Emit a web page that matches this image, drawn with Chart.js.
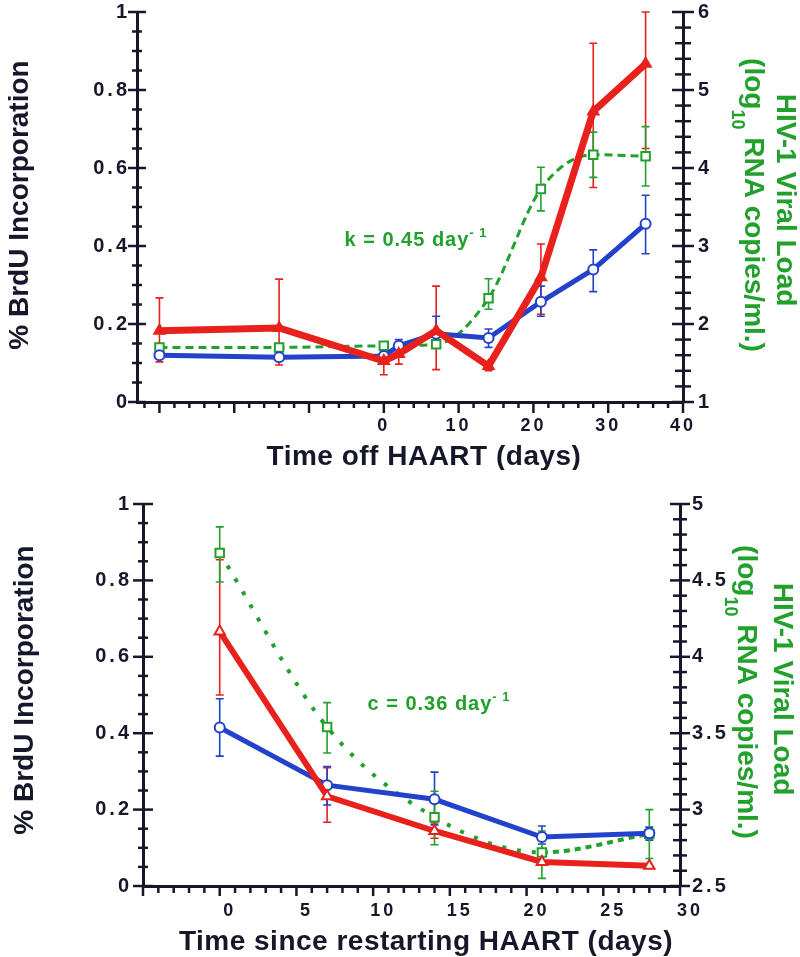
<!DOCTYPE html>
<html>
<head>
<meta charset="utf-8">
<script src="https://cdn.jsdelivr.net/npm/chart.js@4.4.1/dist/chart.umd.min.js"></script>
<style>
  html, body { margin: 0; padding: 0; background: #fff; }
  #wrap { position: relative; width: 800px; height: 957px; }
  #c1 { position: absolute; left: 0; top: 0; }
  #c2 { position: absolute; left: 0; top: 470px; }
</style>
</head>
<body>
<div id="wrap">
  <canvas id="c1" width="800" height="470"></canvas>
  <canvas id="c2" width="800" height="487"></canvas>
</div>
<script>
const AXIS = '#17172b';
const RED = '#e8211d';
const BLUE = '#2242cc';
const GREEN = '#22a02c';
const FONT = '"Liberation Sans", Arial, Helvetica, sans-serif';

// ---- top panel: time off HAART ----
const xTop = [-30, -14, 0, 2, 7, 14, 21, 28, 35];
const redTop = [0.183, 0.19, 0.105, 0.123, 0.183, 0.092, 0.32, 0.745, 0.867];
const redTopLo = [0.103, 0.095, 0.07, 0.097, 0.083, 0.08, 0.225, 0.55, 0.65];
const redTopHi = [0.267, 0.315, 0.13, 0.15, 0.297, 0.10, 0.405, 0.92, 1.0];
const blueTop = [0.12, 0.115, 0.118, 0.144, 0.175, 0.164, 0.257, 0.34, 0.457];
const blueTopLo = [null, null, 0.10, 0.125, 0.15, 0.14, 0.22, 0.283, 0.38];
const blueTopHi = [null, null, 0.135, 0.16, 0.22, 0.187, 0.297, 0.39, 0.53];
const xTopGreen = [-30, -14, 0, 7, 14, 21, 28, 35];
const greenTop = [1.70, 1.70, 1.72, 1.74, 2.33, 3.73, 4.17, 4.15];
const greenTopLo = [null, null, null, null, 2.19, 3.45, 3.88, 3.77];
const greenTopHi = [null, null, null, null, 2.58, 4.01, 4.46, 4.53];
const xLabelsTop = [0, 10, 20, 30, 40];

// ---- bottom panel: time since restarting HAART ----
const xBot = [0, 7, 14, 21, 28];
const redBot = [0.666, 0.235, 0.144, 0.063, 0.053];
const redBotLo = [0.50, 0.167, 0.125, null, null];
const redBotHi = [0.854, 0.31, 0.165, null, null];
const blueBot = [0.415, 0.264, 0.227, 0.128, 0.138];
const blueBotLo = [0.34, 0.212, 0.16, 0.11, 0.12];
const blueBotHi = [0.49, 0.313, 0.298, 0.157, 0.154];
const greenBot = [4.68, 3.54, 2.95, 2.72, 2.84];
const greenBotLo = [4.49, 3.37, 2.77, 2.55, 2.68];
const greenBotHi = [4.85, 3.70, 3.12, 2.86, 3.0];
const xLabelsBot = [0, 5, 10, 15, 20, 25, 30];

function pts(xs, ys) {
  return xs.map((x, i) => ({ x: x, y: ys[i] }));
}

// "1" instead of "1.0", "3" instead of "3.0"
function plainNum(v) {
  return String(Number(v.toFixed(2)));
}

// fixed box sizes so the plot area sits where the figure has it
function fixWidth(w) {
  return s => { s.width = w; s.paddingTop = 0; s.paddingBottom = 0; };
}
function fixHeight(h) {
  return s => { s.height = h; s.paddingLeft = 0; s.paddingRight = 0; };
}

// tick marks crossing the axis lines (major / minor)
const axisTicks = {
  id: 'axisTicks',
  beforeDatasetsDraw(chart, args, opts) {
    const ctx = chart.ctx;
    const area = chart.chartArea;
    ctx.save();
    ctx.letterSpacing = '0px';
    ctx.strokeStyle = AXIS;
    ctx.lineWidth = 2.5;
    opts.list.forEach(t => {
      const s = chart.scales[t.axis];
      const first = Math.ceil(s.min / t.step - 1e-6);
      const last = Math.floor(s.max / t.step + 1e-6);
      for (let k = first; k <= last; k++) {
        const v = k * t.step;
        const r = v / t.major;
        const len = Math.abs(r - Math.round(r)) < 1e-6 ? t.majLen : t.minLen;
        const p = s.getPixelForValue(v);
        ctx.beginPath();
        if (t.axis === 'x') {
          ctx.moveTo(p, area.bottom - len[1]);
          ctx.lineTo(p, area.bottom + len[0]);
        } else if (s.position === 'left') {
          ctx.moveTo(area.left - len[0], p);
          ctx.lineTo(area.left + len[1], p);
        } else {
          ctx.moveTo(area.right + len[0], p);
          ctx.lineTo(area.right - len[1], p);
        }
        ctx.stroke();
      }
    });
    ctx.restore();
  }
};

// vertical error bars with caps
const errorBars = {
  id: 'errorBars',
  beforeDraw(chart) {
    chart.ctx.letterSpacing = '3px';
  },
  beforeDatasetsDraw(chart) {
    const ctx = chart.ctx;
    ctx.letterSpacing = '0px';
    chart.data.datasets.forEach(ds => {
      if (!ds.errLo) return;
      const xs = chart.scales.x;
      const ys = chart.scales[ds.yAxisID];
      ctx.save();
      ctx.strokeStyle = ds.borderColor;
      ctx.lineWidth = 1.6;
      ds.data.forEach((pt, i) => {
        const lo = ds.errLo[i], hi = ds.errHi[i];
        if (lo == null || hi == null) return;
        const px = xs.getPixelForValue(pt.x);
        const y0 = ys.getPixelForValue(lo);
        const y1 = ys.getPixelForValue(hi);
        ctx.beginPath();
        ctx.moveTo(px, y0); ctx.lineTo(px, y1);
        ctx.moveTo(px - 4, y0); ctx.lineTo(px + 4, y0);
        ctx.moveTo(px - 4, y1); ctx.lineTo(px + 4, y1);
        ctx.stroke();
      });
      ctx.restore();
    });
  }
};

// axis titles and annotations (with sub/superscripts)
function drawParts(ctx, parts, x, y, angle, color, spacing) {
  ctx.save();
  ctx.translate(x, y);
  ctx.rotate(angle);
  ctx.fillStyle = color;
  ctx.letterSpacing = spacing || '0px';
  ctx.textAlign = 'left';
  ctx.textBaseline = 'alphabetic';
  let total = 0;
  parts.forEach(p => {
    ctx.font = 'bold ' + p.size + 'px ' + FONT;
    p.w = ctx.measureText(p.text).width;
    total += p.w;
  });
  const base = parts[0].size * 0.36;
  let cur = -total / 2;
  parts.forEach(p => {
    ctx.font = 'bold ' + p.size + 'px ' + FONT;
    ctx.fillText(p.text, cur, base + (p.dy || 0));
    cur += p.w;
  });
  ctx.restore();
}

const panelText = {
  id: 'panelText',
  afterDraw(chart, args, opts) {
    opts.items.forEach(it => {
      drawParts(chart.ctx, it.parts, it.x, it.y, it.angle || 0, it.color, it.spacing);
    });
  }
};

function makePanel(id, cfg) {
  const tickFont = { family: FONT, size: 20, weight: 'bold' };
  return new Chart(document.getElementById(id), {
    type: 'line',
    data: {
      datasets: [
        {
          data: cfg.red, errLo: cfg.redLo, errHi: cfg.redHi, yAxisID: 'y',
          borderColor: RED, borderWidth: cfg.redWidth, pointStyle: 'triangle',
          pointRadius: 6, pointBackgroundColor: cfg.redFill, pointBorderColor: RED,
          pointBorderWidth: 2, tension: 0
        },
        {
          data: cfg.blue, errLo: cfg.blueLo, errHi: cfg.blueHi, yAxisID: 'y',
          borderColor: BLUE, borderWidth: 5, pointStyle: 'circle',
          pointRadius: 5, pointBackgroundColor: '#fff', pointBorderColor: BLUE,
          pointBorderWidth: 2, tension: 0
        },
        {
          data: cfg.green, errLo: cfg.greenLo, errHi: cfg.greenHi, yAxisID: 'y1',
          borderColor: GREEN, borderWidth: cfg.greenWidth, borderDash: cfg.greenDash,
          segment: cfg.greenSegment, cubicInterpolationMode: 'monotone',
          pointStyle: 'rect', pointRadius: 6, pointBackgroundColor: '#fff',
          pointBorderColor: GREEN, pointBorderWidth: 2
        }
      ]
    },
    options: {
      responsive: false,
      animation: false,
      devicePixelRatio: 1,
      layout: { padding: { top: cfg.padTop, left: 0, right: 0, bottom: 0 } },
      plugins: {
        legend: { display: false },
        tooltip: { enabled: false },
        axisTicks: { list: cfg.ticks },
        panelText: { items: cfg.texts }
      },
      scales: {
        x: {
          type: 'linear', position: 'bottom', min: cfg.xMin, max: cfg.xMax,
          afterFit: fixHeight(cfg.xHeight),
          border: { display: true, color: AXIS, width: 3 },
          grid: { display: false, drawTicks: false },
          ticks: {
            stepSize: cfg.xStep, includeBounds: false, padding: cfg.xPad,
            labelOffset: cfg.xLabelOffset, maxRotation: 0, autoSkip: false,
            color: AXIS, font: { family: FONT, size: 18, weight: 'bold' },
            callback: v => cfg.xLabels.includes(v) ? String(v) : ''
          }
        },
        y: {
          type: 'linear', position: 'left', min: 0, max: 1,
          afterFit: fixWidth(cfg.leftWidth),
          border: { display: true, color: AXIS, width: 3 },
          grid: { display: false, drawTicks: false },
          ticks: { stepSize: 0.2, padding: cfg.yPad, color: AXIS, font: tickFont, callback: plainNum }
        },
        y1: {
          type: 'linear', position: 'right', min: cfg.rMin, max: cfg.rMax,
          afterFit: fixWidth(cfg.rightWidth),
          border: { display: true, color: AXIS, width: 3 },
          grid: { display: false, drawTicks: false },
          ticks: { stepSize: cfg.rStep, padding: cfg.rPad, color: AXIS, font: tickFont, callback: plainNum }
        }
      }
    },
    plugins: [axisTicks, errorBars, panelText]
  });
}

makePanel('c1', {
  red: pts(xTop, redTop), redLo: redTopLo, redHi: redTopHi, redWidth: 7, redFill: RED,
  blue: pts(xTop, blueTop), blueLo: blueTopLo, blueHi: blueTopHi,
  green: pts(xTopGreen, greenTop), greenLo: greenTopLo, greenHi: greenTopHi,
  greenWidth: 3, greenDash: [8, 5],
  padTop: 12, xMin: -33, xMax: 40, xStep: 10, xLabels: xLabelsTop,
  xHeight: 68, xPad: 13, xLabelOffset: 0,
  leftWidth: 137, yPad: 7,
  rMin: 1, rMax: 6, rStep: 1, rightWidth: 117, rPad: 15,
  ticks: [
    { axis: 'y', step: 0.05, major: 0.2, minLen: [5, 5], majLen: [9, 9] },
    { axis: 'y1', step: 0.2, major: 1, minLen: [8, 8], majLen: [11, 11] },
    { axis: 'x', step: 2, major: 10, minLen: [6, 0], majLen: [11, 0] }
  ],
  texts: [
    { parts: [{ text: '% BrdU Incorporation', size: 28 }], x: 18, y: 205, angle: -Math.PI / 2, color: AXIS },
    { parts: [{ text: 'Time off HAART (days)', size: 28 }], x: 424, y: 455, color: AXIS, spacing: '0.5px' },
    { parts: [{ text: 'HIV-1 Viral Load', size: 28 }], x: 787, y: 200, angle: Math.PI / 2, color: GREEN },
    { parts: [{ text: '(log', size: 28 }, { text: '10', size: 18, dy: 13 }, { text: ' RNA copies/ml.)', size: 28 }],
      x: 755, y: 205, angle: Math.PI / 2, color: GREEN },
    { parts: [{ text: 'k = 0.45 day', size: 20 }, { text: '- 1', size: 13, dy: -9 }], x: 416, y: 239, color: GREEN, spacing: '1px' }
  ]
});

makePanel('c2', {
  red: pts(xBot, redBot), redLo: redBotLo, redHi: redBotHi, redWidth: 6, redFill: '#fff',
  blue: pts(xBot, blueBot), blueLo: blueBotLo, blueHi: blueBotHi,
  green: pts(xBot, greenBot), greenLo: greenBotLo, greenHi: greenBotHi,
  greenWidth: 4, greenDash: [4, 11],
  greenSegment: { borderDash: c => c.p0DataIndex >= 3 ? [6, 5] : [4, 11] },
  padTop: 34, xMin: -5, xMax: 30, xStep: 5, xLabels: xLabelsBot,
  xHeight: 71, xPad: 14, xLabelOffset: 10,
  leftWidth: 143, yPad: 11,
  rMin: 2.5, rMax: 5, rStep: 0.5, rightWidth: 120, rPad: 12,
  ticks: [
    { axis: 'y', step: 0.05, major: 0.2, minLen: [5, 5], majLen: [10, 10] },
    { axis: 'y1', step: 0.1, major: 0.5, minLen: [7, 7], majLen: [10, 10] },
    { axis: 'x', step: 1, major: 5, minLen: [7, 0], majLen: [10, 0] }
  ],
  texts: [
    { parts: [{ text: '% BrdU Incorporation', size: 28 }], x: 23, y: 220, angle: -Math.PI / 2, color: AXIS },
    { parts: [{ text: 'Time since restarting HAART (days)', size: 28 }], x: 426, y: 470, color: AXIS, spacing: '0.5px' },
    { parts: [{ text: 'HIV-1 Viral Load', size: 28 }], x: 784, y: 219, angle: Math.PI / 2, color: GREEN },
    { parts: [{ text: '(log', size: 28 }, { text: '10', size: 18, dy: 13 }, { text: ' RNA copies/ml.)', size: 28 }],
      x: 748, y: 222, angle: Math.PI / 2, color: GREEN },
    { parts: [{ text: 'c = 0.36 day', size: 20 }, { text: '- 1', size: 13, dy: -9 }], x: 439, y: 233, color: GREEN, spacing: '1px' }
  ]
});
</script>
</body>
</html>
